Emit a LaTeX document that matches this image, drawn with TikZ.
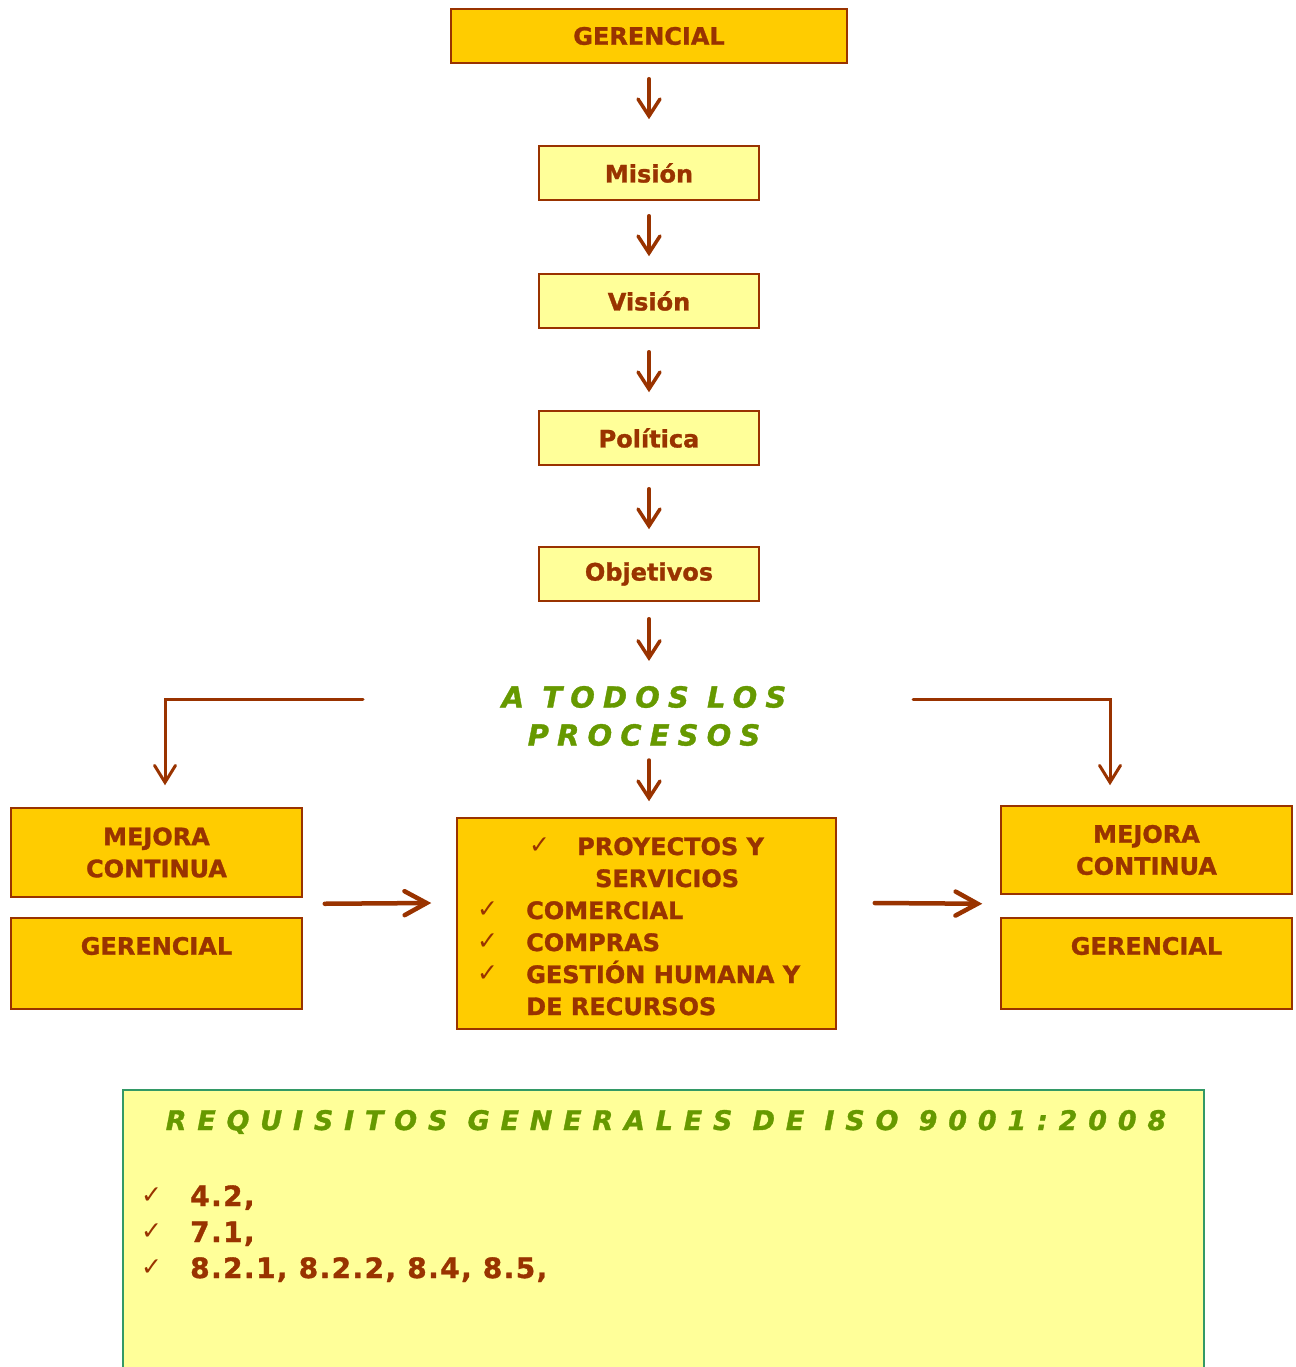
\documentclass[tikz,border=0pt]{standalone}
\usepackage{fontspec}
\setmainfont{DejaVu Sans}[BoldFeatures={FakeBold=1.2},BoldItalicFeatures={FakeBold=1.2}]
\newfontfamily\spacedA{DejaVu Sans}[LetterSpace=28,BoldFeatures={FakeBold=1.2},BoldItalicFeatures={FakeBold=1.2}]
\newfontfamily\spacedB{DejaVu Sans}[LetterSpace=40,BoldFeatures={FakeBold=1.2},BoldItalicFeatures={FakeBold=1.2}]
\newfontfamily\spacedC{DejaVu Sans}[LetterSpace=5,BoldFeatures={FakeBold=1.2}]
\newfontfamily\chkfont{DejaVu Sans}
\usetikzlibrary{arrows.meta}
\definecolor{brn}{HTML}{993300}
\definecolor{gold}{HTML}{FFCC00}
\definecolor{pale}{HTML}{FFFF99}
\definecolor{grn}{HTML}{669900}
\definecolor{bgreen}{HTML}{339966}
\newcommand{\chk}{{\chkfont\mdseries\fontsize{25}{25}\selectfont ✓}}
\tikzset{
  box/.style={draw=brn, line width=1.5pt, fill=gold, inner sep=0pt, text=brn,
    font=\bfseries\fontsize{24}{32}\selectfont, align=center},
  pbox/.style={box, fill=pale},
  txt/.style={text=brn, inner sep=0pt, font=\bfseries\fontsize{24}{32}\selectfont},
  rtxt/.style={text=brn, inner sep=0pt, font=\spacedC\bfseries\fontsize{28}{36}\selectfont},
  arr/.style={draw=brn, line width=3.5pt, line cap=round, -{Straight Barb[length=17pt,width=22pt,line cap=round]}},
  arrb/.style={draw=brn, line width=3pt, line cap=round, -{Straight Barb[length=17pt,width=21pt,line cap=round]}},
  harr/.style={draw=brn, line width=4.5pt, line cap=round, -{Straight Barb[length=22pt,width=24pt,line cap=round]}},
  gtxt/.style={text=grn, inner sep=0pt, align=center}
}
\begin{document}
\begin{tikzpicture}[x=1pt,y=-1pt]
\useasboundingbox (0,0) rectangle (1295,1367);
\clip (0,0) rectangle (1295,1367);

% top chain
\node[box, minimum width=396pt, minimum height=54pt] (ger) at (649,36) {GERENCIAL};
\node[pbox, minimum width=220pt, minimum height=54pt] (mis) at (649,173) {Misión};
\node[pbox, minimum width=220pt, minimum height=54pt] (vis) at (649,301) {Visión};
\node[pbox, minimum width=220pt, minimum height=54pt] (pol) at (649,438) {Política};
\node[pbox, minimum width=220pt, minimum height=54pt] (obj) at (649,574) {Objetivos};

\draw[arr] ([yshift=-15pt]ger.south) -- ([yshift=26pt]mis.north);
\draw[arr] ([yshift=-15pt]mis.south) -- ([yshift=17pt]vis.north);
\draw[arr] ([yshift=-23pt]vis.south) -- ([yshift=18pt]pol.north);
\draw[arr] ([yshift=-23pt]pol.south) -- ([yshift=17pt]obj.north);

% A TODOS LOS PROCESOS
\node[gtxt, font=\spacedA\bfseries\itshape\fontsize{29}{38}\selectfont] (todos) at (644,716) {A TODOS LOS\\PROCESOS};
\coordinate (tin) at (649,661);
\draw[arr] ([yshift=-17pt]obj.south) -- (tin);

% side & center boxes
\node[box, minimum width=291pt, minimum height=89pt] (mcl) at (156.5,852.5) {MEJORA\\CONTINUA};
\node[box, minimum width=291pt, minimum height=91pt] (mgl) at (156.5,963.5) {};
\node[txt] (mglt) at (156.5,946) {GERENCIAL};
\node[box, minimum width=291pt, minimum height=88pt] (mcr) at (1146.5,850) {MEJORA\\CONTINUA};
\node[box, minimum width=291pt, minimum height=91pt] (mgr) at (1146.5,963.5) {};
\node[txt] (mgrt) at (1146.5,946) {GERENCIAL};
\node[box, minimum width=379pt, minimum height=211pt] (proc) at (646.5,923.5) {};

\node[txt, anchor=base west] (c1) at (529,853) {\chk};
\node[txt, anchor=base west] (p1) at (577,855) {PROYECTOS Y};
\node[txt, anchor=base west] (p1b) at (595,887) {SERVICIOS};
\node[txt, anchor=base west] (c2) at (477,917) {\chk};
\node[txt, anchor=base west] (p2) at (526,919) {COMERCIAL};
\node[txt, anchor=base west] (c3) at (477,949) {\chk};
\node[txt, anchor=base west] (p3) at (526,951) {COMPRAS};
\node[txt, anchor=base west] (c4) at (477,981) {\chk};
\node[txt, anchor=base west] (p4) at (526,983) {GESTIÓN HUMANA Y};
\node[txt, anchor=base west] (p4b) at (526,1015) {DE RECURSOS};

% connectors from the text
\coordinate (ls) at (363,699);
\coordinate (rs) at (913,699);
\coordinate (tout) at (649,760);
\draw[arrb] (ls) -| ([xshift=8.5pt,yshift=22pt]mcl.north);
\draw[arrb] (rs) -| ([xshift=-36.5pt,yshift=20pt]mcr.north);
\draw[arr] (tout) -- ([xshift=2.5pt,yshift=16pt]proc.north);

\draw[harr] ([xshift=22pt,yshift=-6pt]mcl.south east) -- ([xshift=-25pt,yshift=20.5pt]proc.west);
\draw[harr] ([xshift=38pt,yshift=20.5pt]proc.east) -- ([xshift=-18pt,yshift=-9pt]mcr.south west);

% requirements box
\node[draw=bgreen, fill=pale, line width=1.5pt, inner sep=0pt, anchor=north west,
  minimum width=1081pt, minimum height=320pt] (req) at (122,1089) {};
\node[gtxt, font=\spacedB\bfseries\itshape\fontsize{27}{30}\selectfont, anchor=base] (reqt) at (666,1130) {REQUISITOS GENERALES DE ISO 9001:2008};
\node[txt, anchor=base west] (rc1) at (141,1203) {\chk};
\node[rtxt, anchor=base west] (r1) at (190,1206) {4.2,};
\node[txt, anchor=base west] (rc2) at (141,1239) {\chk};
\node[rtxt, anchor=base west] (r2) at (190,1242) {7.1,};
\node[txt, anchor=base west] (rc3) at (141,1275) {\chk};
\node[rtxt, anchor=base west] (r3) at (190,1278) {8.2.1, 8.2.2, 8.4, 8.5,};
\end{tikzpicture}
\end{document}
